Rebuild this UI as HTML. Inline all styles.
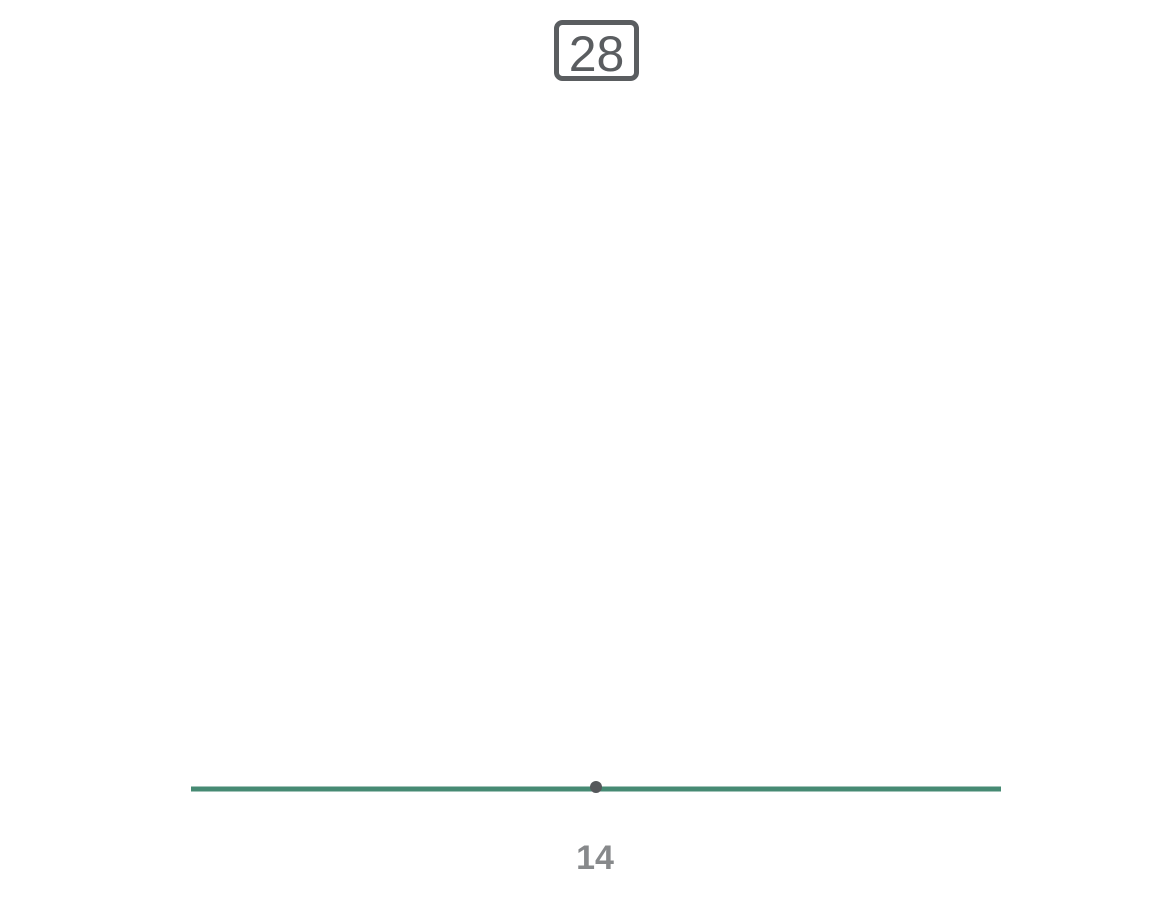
<!DOCTYPE html>
<html><head><meta charset="utf-8"><style>
html,body{margin:0;padding:0;background:#fff;}
svg{display:block;font-family:"Liberation Sans",sans-serif;}
</style></head><body>
<svg id="chart" width="1152" height="921">
<rect x="556.5" y="22.5" width="80" height="56" rx="6" fill="none" stroke="#5a5d60" stroke-width="5"/>
<text x="596.5" y="71" text-anchor="middle" font-size="50" fill="#5a5d60" id="maxLabel"></text>
<line x1="191" x2="1001" y1="789" y2="789" stroke="#468a73" stroke-width="5"/>
<g id="marks"></g>
</svg>
<script>
const domainMin = [0];
const domainMax = [28];
const values = [14];
const valueLabels = ['14'];
const x0 = 191, x1 = 1001;
function xScale(v){ return x0 + (v - domainMin[0]) / (domainMax[0] - domainMin[0]) * (x1 - x0); }
document.getElementById('maxLabel').textContent = String(domainMax[0]);
const g = document.getElementById('marks');
const ns = 'http://www.w3.org/2000/svg';
values.forEach((v, i) => {
  const c = document.createElementNS(ns, 'circle');
  c.setAttribute('cx', xScale(v));
  c.setAttribute('cy', 787);
  c.setAttribute('r', 6);
  c.setAttribute('fill', '#55585b');
  
  
  g.appendChild(c);
  const t = document.createElementNS(ns, 'text');
  t.setAttribute('x', xScale(v) - 1);
  t.setAttribute('y', 869);
  t.setAttribute('text-anchor', 'middle');
  t.setAttribute('font-size', '34');
  t.setAttribute('font-weight', 'bold');
  t.setAttribute('fill', '#87898b');
  t.textContent = valueLabels[i];
  
  
  g.appendChild(t);
});
</script>
</body></html>
